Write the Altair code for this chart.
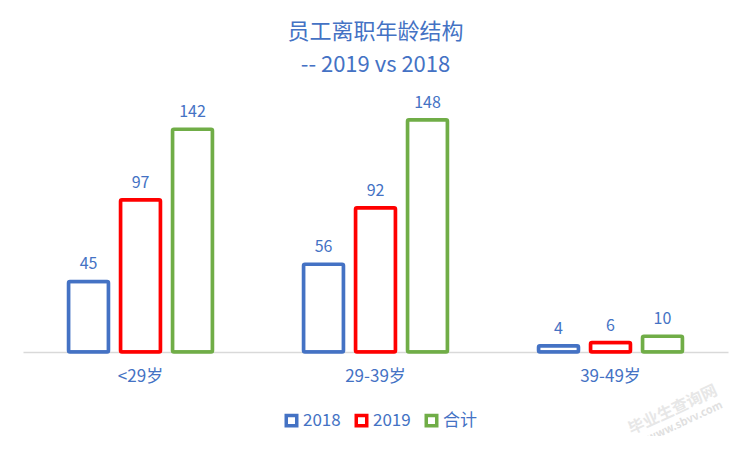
import altair as alt
import pandas as pd

categories = ["<29岁", "29-39岁", "39-49岁"]
series = ["2018", "2019", "合计"]
v2018 = [45, 56, 4]
v2019 = [97, 92, 6]
vtotal = [142, 148, 10]
colors = ["#4472C4", "#FF0000", "#70AD47"]

rows = []
for i, c in enumerate(categories):
    for s, vals in zip(series, [v2018, v2019, vtotal]):
        rows.append({"cat": c, "series": s, "value": vals[i]})
df = pd.DataFrame(rows)

FONT = "Noto Sans CJK SC"
TXT = "#4472C4"

x = alt.X("cat:N", sort=categories, title=None,
          scale=alt.Scale(paddingInner=0, paddingOuter=0),
          axis=alt.Axis(labelAngle=0, labelFontSize=17, labelColor=TXT, labelFont=FONT,
                        domainColor="#D9D9D9", domainWidth=1.5, ticks=False, labelPadding=16))
xo = alt.XOffset("series:N", sort=series,
                 scale=alt.Scale(paddingInner=0.23, paddingOuter=0.875))
y = alt.Y("value:Q", scale=alt.Scale(domain=[0, 160], nice=False), axis=None)

bars = alt.Chart(df).mark_bar(fill="white", strokeWidth=3.5, strokeJoin="round", cornerRadius=1.5).encode(
    x=x, xOffset=xo, y=y,
    stroke=alt.Stroke("series:N", sort=series,
                      scale=alt.Scale(domain=series, range=colors),
                      legend=alt.Legend(title=None, orient="none", direction="horizontal",
                                        legendX=260, legendY=311,
                                        symbolType="square", symbolSize=110, symbolStrokeWidth=3.5,
                                        symbolFillColor="white", labelFontSize=17, labelColor=TXT,
                                        labelFont=FONT, columnPadding=8, labelOffset=3)),
)

labels = alt.Chart(df).mark_text(baseline="bottom", dy=-9, fontSize=16, color=TXT, font=FONT).encode(
    x=x, xOffset=xo, y=y, text="value:Q"
)

wm = alt.Chart(pd.DataFrame({"t": ["毕业生查询网"]})).mark_text(
    angle=335, fontSize=16, fontWeight="bold", color="#BBBBBB", opacity=0.35, font=FONT
).encode(x=alt.value(650), y=alt.value(309), text="t:N")
wm2 = alt.Chart(pd.DataFrame({"t": ["www.sbvv.com"]})).mark_text(
    angle=335, fontSize=11, color="#BBBBBB", opacity=0.45, font=FONT, fontWeight="bold"
).encode(x=alt.value(662), y=alt.value(321), text="t:N")

chart = alt.layer(bars, labels, wm, wm2).properties(
    width=705, height=251,
    padding={"left": 15, "top": 93, "right": 16, "bottom": 84},
    autosize=alt.AutoSizeParams(type="none"),
    title=alt.TitleParams(["员工离职年龄结构", "-- 2019 vs 2018"], fontSize=22, font=FONT,
                          fontWeight="normal", color=TXT, anchor="middle", lineHeight=33, offset=18),
).configure(background="white", view=alt.ViewConfig(stroke=None))

chart.save("out.html", embed_options={"renderer": "svg", "actions": False})
